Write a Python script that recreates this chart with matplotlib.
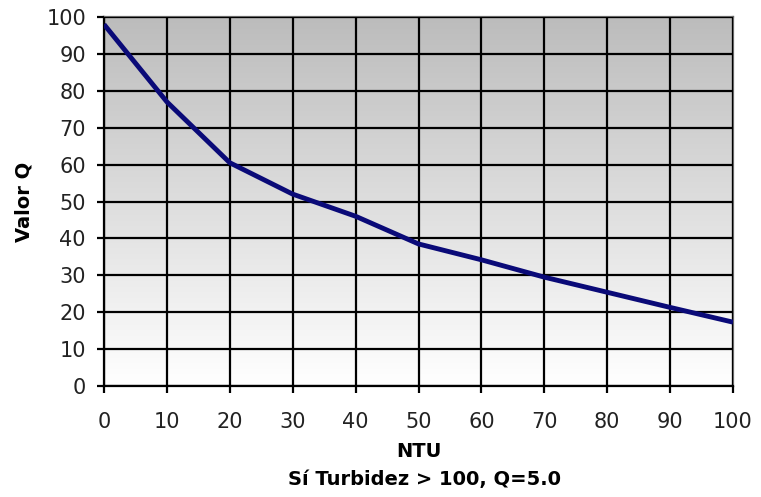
import matplotlib
matplotlib.use("Agg")
import matplotlib.pyplot as plt
import numpy as np
from matplotlib.colors import LinearSegmentedColormap

ntu = [0, 10, 20, 30, 40, 50, 60, 70, 80, 90, 100]
valor_q = [98, 77, 60.5, 52, 46, 38.5, 34.2, 29.5, 25.4, 21.3, 17.3]
xticks = [0, 10, 20, 30, 40, 50, 60, 70, 80, 90, 100]
yticks = [0, 10, 20, 30, 40, 50, 60, 70, 80, 90, 100]

fig = plt.figure(figsize=(7.61, 4.97), dpi=100)
ax = fig.add_axes([104/761, 1-386/497, (733-104)/761, (386-17)/497])

grad = np.linspace(0, 1, 256).reshape(-1, 1)
cmap = LinearSegmentedColormap.from_list("g", ["#ffffff", "#bcbcbc"])
ax.imshow(grad, extent=[0, 100, 0, 100], aspect="auto", cmap=cmap,
          origin="lower", zorder=0)

ax.plot(ntu, valor_q, color="#0a0a78", lw=3.5, zorder=3, solid_capstyle="butt")

ax.set_xlim(0, 100)
ax.set_ylim(0, 100)
ax.set_xticks(xticks)
ax.set_yticks(yticks)
ax.grid(True, color="black", lw=1.6, zorder=2)
ax.set_axisbelow(False)
for s in ax.spines.values():
    s.set_color("#666666")
    s.set_linewidth(1.6)
ax.spines["bottom"].set_color("black")
ax.spines["left"].set_color("black")
ax.tick_params(axis="both", direction="out", length=5, width=1.6, labelsize=15,
               labelcolor="#222222", color="black")
ax.tick_params(axis="x", pad=14)
ax.tick_params(axis="y", pad=8)
ax.set_xlabel("NTU", fontsize=14, fontweight="bold", labelpad=7)
ax.set_ylabel("Valor Q", fontsize=14, fontweight="bold")
ax.yaxis.set_label_coords((34 - 104) / 629, 0.5)
fig.text(425/761, 1-480/497, "Sí Turbidez > 100, Q=5.0", ha="center", va="center",
         fontsize=14, fontweight="bold")
fig.savefig("out.png", dpi=100)
